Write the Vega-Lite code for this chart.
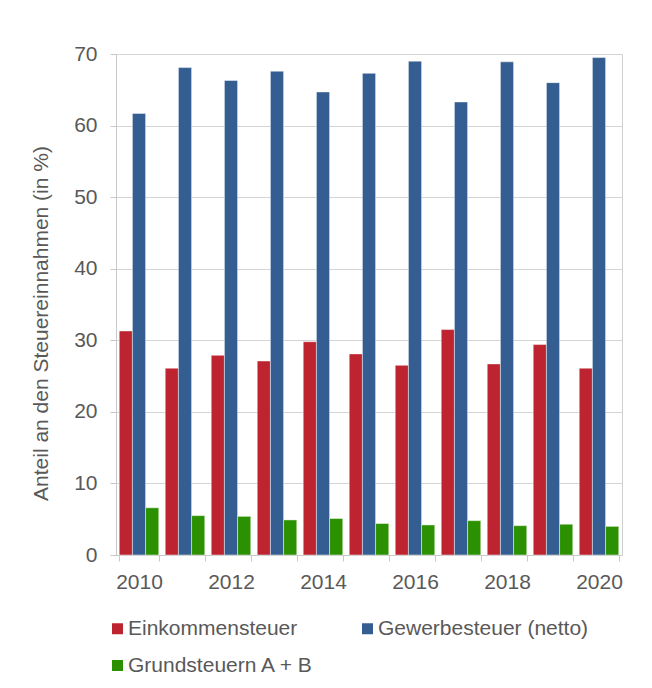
{
  "$schema": "https://vega.github.io/schema/vega-lite/v6.json",
  "width": 506,
  "height": 501,
  "autosize": {"type": "none"},
  "padding": {"left": 116, "top": 54, "right": 30, "bottom": 133},
  "background": "white",
  "config": {
    "font": "Liberation Sans",
    "view": {"stroke": "#d0d0d0", "strokeWidth": 1},
    "axis": {
      "labelFont": "Liberation Sans",
      "titleFont": "Liberation Sans",
      "labelColor": "#595959",
      "titleColor": "#595959",
      "labelFontSize": 21,
      "titleFontSize": 21,
      "titleFontWeight": "normal",
      "domainColor": "#c8c8c8",
      "tickColor": "#c8c8c8",
      "gridColor": "#d4d4d4",
      "tickSize": 6
    },
    "legend": {
      "labelFont": "Liberation Sans",
      "labelFontSize": 21,
      "labelColor": "#595959",
      "labelLimit": 0
    }
  },
  "data": {
    "values": [
      {"year": "2010", "series": "Einkommensteuer", "value": 31.3},
      {"year": "2010", "series": "Gewerbesteuer (netto)", "value": 61.7},
      {"year": "2010", "series": "Grundsteuern A + B", "value": 6.6},
      {"year": "2011", "series": "Einkommensteuer", "value": 26.1},
      {"year": "2011", "series": "Gewerbesteuer (netto)", "value": 68.1},
      {"year": "2011", "series": "Grundsteuern A + B", "value": 5.5},
      {"year": "2012", "series": "Einkommensteuer", "value": 27.9},
      {"year": "2012", "series": "Gewerbesteuer (netto)", "value": 66.3},
      {"year": "2012", "series": "Grundsteuern A + B", "value": 5.4},
      {"year": "2013", "series": "Einkommensteuer", "value": 27.1},
      {"year": "2013", "series": "Gewerbesteuer (netto)", "value": 67.6},
      {"year": "2013", "series": "Grundsteuern A + B", "value": 4.9},
      {"year": "2014", "series": "Einkommensteuer", "value": 29.8},
      {"year": "2014", "series": "Gewerbesteuer (netto)", "value": 64.7},
      {"year": "2014", "series": "Grundsteuern A + B", "value": 5.1},
      {"year": "2015", "series": "Einkommensteuer", "value": 28.1},
      {"year": "2015", "series": "Gewerbesteuer (netto)", "value": 67.3},
      {"year": "2015", "series": "Grundsteuern A + B", "value": 4.4},
      {"year": "2016", "series": "Einkommensteuer", "value": 26.5},
      {"year": "2016", "series": "Gewerbesteuer (netto)", "value": 69.0},
      {"year": "2016", "series": "Grundsteuern A + B", "value": 4.2},
      {"year": "2017", "series": "Einkommensteuer", "value": 31.5},
      {"year": "2017", "series": "Gewerbesteuer (netto)", "value": 63.3},
      {"year": "2017", "series": "Grundsteuern A + B", "value": 4.8},
      {"year": "2018", "series": "Einkommensteuer", "value": 26.7},
      {"year": "2018", "series": "Gewerbesteuer (netto)", "value": 68.9},
      {"year": "2018", "series": "Grundsteuern A + B", "value": 4.1},
      {"year": "2019", "series": "Einkommensteuer", "value": 29.4},
      {"year": "2019", "series": "Gewerbesteuer (netto)", "value": 66.0},
      {"year": "2019", "series": "Grundsteuern A + B", "value": 4.3},
      {"year": "2020", "series": "Einkommensteuer", "value": 26.1},
      {"year": "2020", "series": "Gewerbesteuer (netto)", "value": 69.5},
      {"year": "2020", "series": "Grundsteuern A + B", "value": 4.0}
    ]
  },
  "mark": {"type": "bar", "stroke": "white", "strokeWidth": 1, "strokeOpacity": 0.45},
  "encoding": {
    "x": {
      "field": "year",
      "type": "ordinal",
      "scale": {"paddingInner": 0.14, "paddingOuter": 0.07},
      "axis": {
        "title": null,
        "labelAngle": 0,
        "tickBand": "extent",
        "labelPadding": 10,
        "grid": false,
        "labelExpr": "toNumber(datum.value) % 2 == 0 ? datum.label : ''"
      }
    },
    "xOffset": {
      "field": "series",
      "type": "nominal",
      "sort": ["Einkommensteuer", "Gewerbesteuer (netto)", "Grundsteuern A + B"],
      "scale": {"paddingInner": 0, "paddingOuter": 0}
    },
    "y": {
      "field": "value",
      "type": "quantitative",
      "scale": {"domain": [0, 70], "nice": false},
      "axis": {
        "title": "Anteil an den Steuereinnahmen (in %)",
        "values": [0, 10, 20, 30, 40, 50, 60, 70],
        "labelPadding": 13,
        "titleBaseline": "alphabetic",
        "titleX": -69,
        "titleY": 269,
        "titleAlign": "center"
      }
    },
    "color": {
      "field": "series",
      "type": "nominal",
      "sort": ["Einkommensteuer", "Gewerbesteuer (netto)", "Grundsteuern A + B"],
      "scale": {
        "domain": ["Einkommensteuer", "Gewerbesteuer (netto)", "Grundsteuern A + B"],
        "range": ["#be2330", "#345e91", "#2c9100"]
      },
      "legend": {
        "title": null,
        "orient": "none",
        "legendX": -9,
        "legendY": 564,
        "direction": "horizontal",
        "columns": 2,
        "columnPadding": 42,
        "rowPadding": 15,
        "symbolType": "square",
        "symbolSize": 121,
        "symbolStrokeWidth": 0,
        "labelOffset": 0,
        "padding": 0
      }
    }
  }
}
